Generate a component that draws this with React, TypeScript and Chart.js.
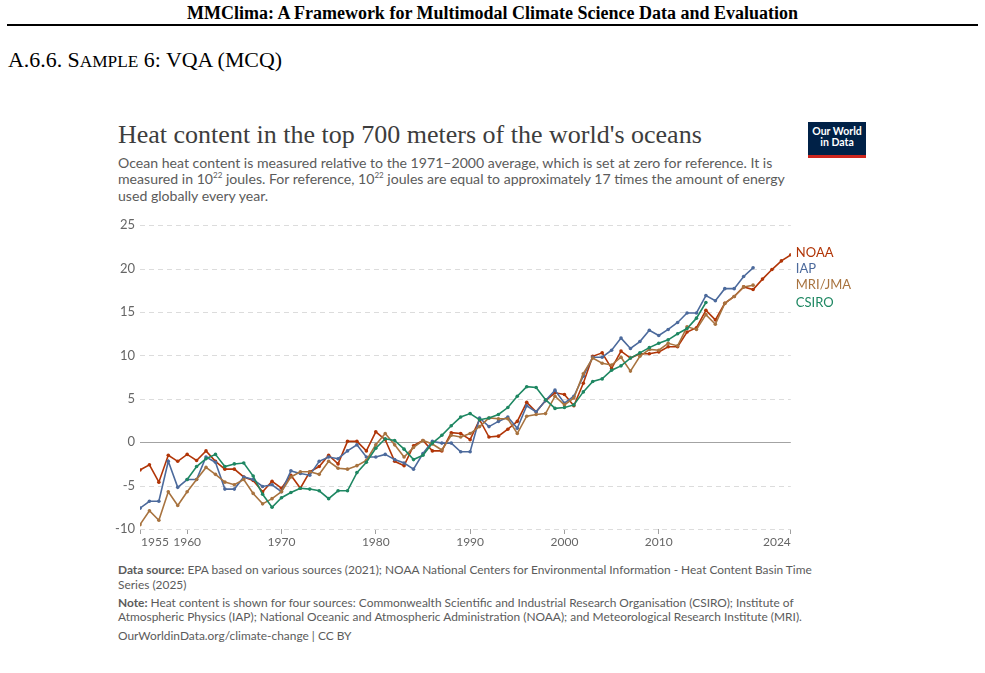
import React, { useEffect, useRef } from "react";
import { Chart, registerables } from "chart.js";

Chart.register(...registerables);

// ---------------- DATA ----------------
const NOAA_START = 1955;
const noaa = [
  -3.2, -2.6, -4.6, -1.5, -2.2, -1.4, -2.1, -1.0, -2.2, -3.1,
  -3.1, -4.0, -4.4, -5.7, -4.5, -5.3, -3.8, -5.3, -3.4, -2.8,
  -1.5, -2.5, 0.1, 0.1, -1.0, 1.2, 0.3, -2.2, -2.7, -0.4,
  0.2, -1.0, -1.0, 1.1, 1.0, 0.3, 2.6, 0.6, 0.7, 1.5,
  2.4, 4.6, 3.5, 4.8, 5.7, 5.5, 4.2, 6.8, 9.9, 10.3,
  8.5, 10.5, 9.7, 10.2, 10.2, 10.4, 11.0, 11.0, 12.7, 13.2,
  15.2, 14.1, 16.0, 16.8, 17.9, 17.6, 18.8, 19.9, 20.9, 21.6,
];

const IAP_START = 1955;
const iap = [
  -7.6, -6.8, -6.8, -2.2, -5.2, -4.3, -4.3, -1.7, -2.3, -5.4,
  -5.4, -4.0, -4.3, -5.1, -4.9, -5.7, -3.3, -3.6, -3.8, -2.2,
  -1.7, -1.9, -1.0, -0.3, -1.7, -1.7, -1.4, -2.0, -2.4, -3.1,
  -1.3, 0.1, -0.1, -0.1, -1.1, -1.1, 2.8, 1.8, 2.4, 2.9,
  1.6, 4.2, 3.5, 4.8, 6.0, 4.5, 5.3, 7.6, 9.8, 9.8,
  10.6, 12.0, 10.8, 11.6, 12.9, 12.3, 13.0, 13.8, 14.9, 14.9,
  16.9, 16.3, 17.7, 17.7, 19.1, 20.1,
];

const MRI_START = 1955;
const mri = [
  -9.5, -7.9, -9.0, -5.7, -7.3, -5.7, -4.3, -2.9, -3.7, -4.6,
  -4.9, -4.3, -5.9, -7.1, -6.5, -5.7, -4.0, -3.4, -3.4, -3.7,
  -2.2, -3.0, -3.1, -2.7, -2.1, -0.3, 1.0, -0.3, -1.7, -0.6,
  0.2, -0.2, -0.9, 0.8, 0.6, 1.0, 1.8, 2.8, 2.7, 2.7,
  1.0, 3.0, 3.2, 3.3, 5.3, 4.3, 5.1, 7.9, 9.7, 9.1,
  8.9, 9.8, 8.2, 9.9, 10.7, 10.6, 11.4, 11.1, 13.3, 13.0,
  14.7, 13.6, 16.0, 16.8, 17.9, 18.1,
];

const CSIRO_START = 1960;
const csiro = [
  -4.3, -2.8, -1.9, -1.4, -2.8, -2.5, -2.4, -3.9, -6.0, -7.5,
  -6.4, -5.8, -5.3, -5.4, -5.6, -6.5, -5.6, -5.6, -3.5, -2.3,
  -0.7, 0.4, 0.2, -0.8, -2.0, -1.5, -0.1, 0.8, 1.9, 2.9,
  3.3, 2.6, 2.8, 3.2, 4.0, 5.3, 6.4, 6.3, 4.9, 3.9,
  4.0, 4.3, 5.8, 7.0, 7.3, 8.3, 8.8, 9.7, 10.3, 10.9,
  11.4, 11.8, 12.5, 13.1, 14.3, 16.1,
];

const yTicks = [-10, -5, 0, 5, 10, 15, 20, 25];
const xTicks = [1955, 1960, 1970, 1980, 1990, 2000, 2010, 2024];

const COLORS = {
  NOAA: "#B13507",
  IAP: "#4C6A9C",
  MRI: "#A8733F",
  CSIRO: "#1E8762",
};

const toPoints = (start: number, vals: number[]) =>
  vals.map((v, i) => ({ x: start + i, y: v }));

const FONT = "Lato, 'Noto Sans', sans-serif";

const owidPlugin = {
  id: "owidPlugin",
  beforeDatasetsDraw(chart: any) {
    const { ctx, chartArea, scales } = chart;
    const y = scales.y;
    const x = scales.x;
    ctx.save();
    for (const v of yTicks) {
      const py = Math.round(y.getPixelForValue(v)) + 0.5;
      ctx.beginPath();
      ctx.lineWidth = 1;
      if (v === 0) {
        ctx.strokeStyle = "#a3a3a3";
        ctx.setLineDash([]);
      } else {
        ctx.strokeStyle = "#dcdcdc";
        ctx.setLineDash([5, 4]);
      }
      ctx.moveTo(chartArea.left, py);
      ctx.lineTo(chartArea.right, py);
      ctx.stroke();
    }
    // x tick labels: first left-aligned, last right-aligned, others centred
    ctx.setLineDash([]);
    ctx.font = `12px ${FONT}`;
    ctx.fillStyle = "#666666";
    ctx.textBaseline = "middle";
    const ly = chartArea.bottom + 13.5;
    xTicks.forEach((v, i) => {
      const px = x.getPixelForValue(v);
      ctx.textAlign = i === 0 ? "left" : i === xTicks.length - 1 ? "right" : "center";
      ctx.fillText(String(v), i === 0 ? px + 1 : px, ly);
    });
    ctx.restore();
  },
  afterDatasetsDraw(chart: any) {
    const { ctx, chartArea, scales } = chart;
    const items = chart.data.datasets
      .map((ds: any) => {
        const last = ds.data[ds.data.length - 1];
        return {
          label: ds.label,
          color: ds.borderColor,
          y: scales.y.getPixelForValue(last.y),
        };
      })
      .sort((a: any, b: any) => a.y - b.y);
    const minGap = 16;
    for (let i = 1; i < items.length; i++) {
      const gap = items[i].y - items[i - 1].y;
      if (gap < minGap) {
        const s = (minGap - gap) / 2;
        items[i - 1].y -= s;
        items[i].y += s;
      }
    }
    ctx.save();
    ctx.font = `13px ${FONT}`;
    ctx.textBaseline = "middle";
    ctx.textAlign = "left";
    for (const it of items) {
      ctx.fillStyle = it.color;
      ctx.fillText(it.label, chartArea.right + 5, it.y);
    }
    ctx.restore();
  },
};

function OceanChart() {
  const ref = useRef<HTMLCanvasElement | null>(null);
  useEffect(() => {
    if (!ref.current) return;
    const mk = (label: string, color: string, start: number, vals: number[]) => ({
      label,
      data: toPoints(start, vals),
      borderColor: color,
      backgroundColor: color,
      pointBackgroundColor: color,
      pointBorderWidth: 0,
      pointRadius: 1.8,
      borderWidth: 1.6,
      tension: 0,
      fill: false,
    });
    const chart = new Chart(ref.current, {
      type: "line",
      data: {
        datasets: [
          mk("CSIRO", COLORS.CSIRO, CSIRO_START, csiro),
          mk("MRI/JMA", COLORS.MRI, MRI_START, mri),
          mk("IAP", COLORS.IAP, IAP_START, iap),
          mk("NOAA", COLORS.NOAA, NOAA_START, noaa),
        ],
      },
      options: {
        animation: false,
        responsive: false,
        maintainAspectRatio: false,
        devicePixelRatio: 1,
        layout: { padding: { top: 15.3, right: 69.2, left: 0, bottom: 0 } },
        plugins: {
          legend: { display: false },
          tooltip: { enabled: false },
        },
        scales: {
          x: {
            type: "linear",
            min: 1955,
            max: 2024,
            afterBuildTicks: (scale: any) => {
              scale.ticks = xTicks.map((v) => ({ value: v }));
            },
            afterFit: (scale: any) => {
              scale.height = 31;
            },
            ticks: {
              autoSkip: false,
              maxRotation: 0,
              padding: 1,
              color: "rgba(0,0,0,0)",
              font: { family: FONT, size: 12 },
              callback: (v: any) => String(v),
            },
            grid: {
              display: true,
              drawOnChartArea: false,
              drawTicks: true,
              tickLength: 5,
              color: "#a0a0a0",
            },
            border: { display: false },
          },
          y: {
            type: "linear",
            min: -10,
            max: 25,
            afterBuildTicks: (scale: any) => {
              scale.ticks = yTicks.map((v) => ({ value: v }));
            },
            afterFit: (scale: any) => {
              scale.width = 40;
            },
            ticks: {
              padding: 5,
              color: "#666666",
              font: { family: FONT, size: 13 },
              callback: (v: any) => String(v),
            },
            grid: { display: false, drawTicks: false },
            border: { display: false },
          },
        },
      },
      plugins: [owidPlugin],
    } as any);
    return () => chart.destroy();
  }, []);
  return (
    <canvas
      ref={ref}
      width={760}
      height={350}
      style={{ position: "absolute", left: 100, top: 210, width: 760, height: 350 }}
    />
  );
}

export default function App() {
  const gray = "#5b5b5b";
  const sc = { fontSize: 17.3 };
  return (
    <div
      style={{
        position: "absolute",
        left: 0,
        top: 0,
        width: 985,
        height: 673,
        background: "#ffffff",
        overflow: "hidden",
      }}
    >
      <div
        style={{
          position: "absolute",
          top: 3,
          left: 0,
          width: 985,
          textAlign: "center",
          fontFamily: "'Liberation Serif', serif",
          fontWeight: "bold",
          fontSize: 18,
          lineHeight: "20px",
          color: "#000",
          whiteSpace: "nowrap",
        }}
      >
        MMClima: A Framework for Multimodal Climate Science Data and Evaluation
      </div>
      <div
        style={{
          position: "absolute",
          top: 24,
          left: 7,
          width: 971,
          height: 2,
          background: "#000",
        }}
      />
      <div
        style={{
          position: "absolute",
          top: 48,
          left: 8,
          fontFamily: "'Liberation Serif', serif",
          fontSize: 21.9,
          lineHeight: "24px",
          color: "#000",
          whiteSpace: "nowrap",
        }}
      >
        A.6.6. S<span style={sc}>AMPLE</span> 6: VQA (MCQ)
      </div>

      <div
        style={{
          position: "absolute",
          top: 120,
          left: 118,
          fontFamily: "'Liberation Serif', serif",
          fontSize: 26,
          lineHeight: "30px",
          color: "#3d3d3d",
          whiteSpace: "nowrap",
        }}
      >
        Heat content in the top 700 meters of the world's oceans
      </div>
      <div
        style={{
          position: "absolute",
          top: 154.5,
          left: 118,
          fontFamily: FONT,
          fontSize: 14.1,
          lineHeight: "16.5px",
          color: gray,
          whiteSpace: "nowrap",
        }}
      >
        Ocean heat content is measured relative to the 1971–2000 average, which is set at zero for reference. It is
        <br />
        measured in 10<sup style={{ fontSize: 8, lineHeight: 0 }}>22</sup> joules. For reference, 10
        <sup style={{ fontSize: 8, lineHeight: 0 }}>22</sup> joules are equal to approximately 17 times the amount of energy
        <br />
        used globally every year.
      </div>

      <div
        style={{
          position: "absolute",
          left: 808,
          top: 122,
          width: 58,
          height: 29,
          background: "#002147",
          borderBottom: "3px solid #ce261e",
          color: "#ffffff",
          fontFamily: FONT,
          fontWeight: "bold",
          fontSize: 10.5,
          lineHeight: "11px",
          textAlign: "center",
          paddingTop: 4,
          boxSizing: "content-box",
        }}
      >
        <div>Our World</div>
        <div>in Data</div>
      </div>

      <OceanChart />

      <div
        style={{
          position: "absolute",
          left: 118,
          top: 561.5,
          fontFamily: FONT,
          fontSize: 11.92,
          lineHeight: "15px",
          color: gray,
          whiteSpace: "nowrap",
        }}
      >
        <b>Data source:</b> EPA based on various sources (2021); NOAA National Centers for Environmental Information - Heat Content Basin Time
        <br />
        Series (2025)
      </div>
      <div
        style={{
          position: "absolute",
          left: 118,
          top: 595.5,
          fontFamily: FONT,
          fontSize: 11.92,
          lineHeight: "14.5px",
          color: gray,
          whiteSpace: "nowrap",
        }}
      >
        <b>Note:</b> Heat content is shown for four sources: Commonwealth Scientific and Industrial Research Organisation (CSIRO); Institute of
        <br />
        Atmospheric Physics (IAP); National Oceanic and Atmospheric Administration (NOAA); and Meteorological Research Institute (MRI).
      </div>
      <div
        style={{
          position: "absolute",
          left: 118,
          top: 628,
          fontFamily: FONT,
          fontSize: 11.92,
          lineHeight: "15px",
          color: gray,
          whiteSpace: "nowrap",
        }}
      >
        OurWorldinData.org/climate-change | CC BY
      </div>
    </div>
  );
}
